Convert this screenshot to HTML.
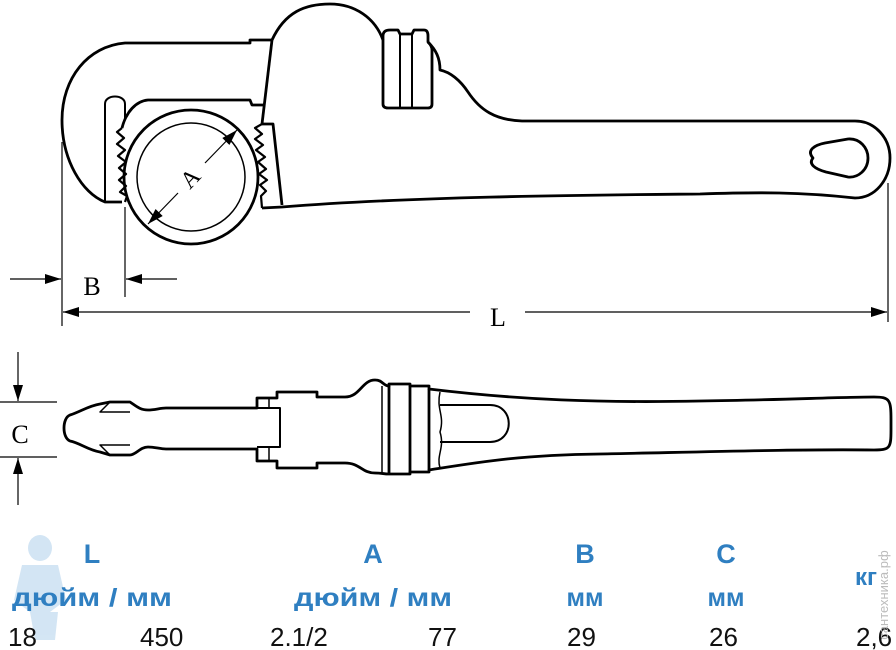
<!DOCTYPE html>
<html><head><meta charset="utf-8"><style>
html,body{margin:0;padding:0;background:#fff;width:896px;height:650px;overflow:hidden}
svg{display:block}
.t{font-family:"Liberation Sans","Noto Sans CJK SC",sans-serif}
</style></head><body>
<svg width="896" height="650" viewBox="0 0 896 650" xmlns="http://www.w3.org/2000/svg">
<defs>
<marker id="ar2" viewBox="0 0 16 10" refX="16" refY="5" markerWidth="16" markerHeight="10" markerUnits="userSpaceOnUse" orient="auto"><path d="M0,0 L16,5 L0,10 Z" fill="#000"/></marker>
</defs>
<g fill="none" stroke="#000" stroke-width="2.8" stroke-linejoin="round">
<path d="M272,40 L250,40 L250,43 L125,43 C88,46 62,78 62,120 C62,160 82,193 105,202 L122,202"/>
<path d="M105,202 L105,104 C105,94 125,94 125,104 L125,120" stroke-width="2"/>
<path d="M122,128 C126,112 136,101 148,100 L250,100 L252,105 L265,105"/>
<path d="M272,40 L262,124"/>
<path d="M272,40 C285,12 305,4 330,4 C355,4 375,18 383,40"/>
<path d="M383,36 Q383,30 390,30 L398,30 L400,34 L412,34 L414,30 L424,30 Q428,30 428,36 L428,42 Q432,46 432,50 L432,104 Q432,108 428,108 L388,108 Q383,108 383,104 Z"/>
<line x1="400" y1="33" x2="400" y2="108" stroke-width="2"/>
<line x1="412" y1="33" x2="412" y2="108" stroke-width="2"/>
<path d="M428,42 C436,50 440,58 440,70 C450,72 460,80 468,92 C480,110 495,120 522,121 L855,121 C875,121 890,138 890,158 C890,180 875,198 855,198 C800,192 760,192 700,194 C600,195 420,196 282,207 L262,208"/>
<path d="M813,158 C806,150 815,145 825,143 L848,139 C860,138 868,148 868,158 C868,170 858,178 848,177 L826,172 C815,169 808,164 813,158 Z"/>
<path d="M262,124 L273,124 L282,205"/>
<path d="M262,124 L255,128 L262,134 L255,139 L263,145 L256,150 L265,157 L258,162 L266,169 L259,174 L267,180 L260,185 L266,191 L261,196 L262,208" stroke-width="2.2"/>
<path d="M122,128 L117,132 L124,138 L117,144 L125,150 L118,156 L126,162 L119,168 L126,174 L119,180 L126,186 L120,192 L127,196 L125,202" stroke-width="2.2"/>
<circle cx="191" cy="177" r="67"/>
<circle cx="191" cy="177" r="54" stroke-width="1.5"/>
</g>
<g stroke="#000" stroke-width="1.2" fill="none">
<line x1="205" y1="163" x2="237" y2="130" marker-end="url(#ar2)"/>
<line x1="178" y1="193" x2="148" y2="224" marker-end="url(#ar2)"/>
</g>
<text x="0" y="0" transform="translate(192,180) rotate(-46)" text-anchor="middle" dominant-baseline="middle" font-family="Liberation Serif,serif" font-size="24">A</text>
<g stroke="#000" stroke-width="1.2" fill="none">
<line x1="62" y1="142" x2="62" y2="326"/>
<line x1="125" y1="207" x2="125" y2="297"/>
<line x1="888" y1="183" x2="888" y2="322"/>
<line x1="10" y1="279" x2="61" y2="279" marker-end="url(#ar2)"/>
<line x1="177" y1="279" x2="126" y2="279" marker-end="url(#ar2)"/>
<line x1="470" y1="312" x2="63" y2="312" marker-end="url(#ar2)"/>
<line x1="525" y1="312" x2="887" y2="312" marker-end="url(#ar2)"/>
<line x1="0" y1="402" x2="57" y2="402"/>
<line x1="0" y1="457" x2="57" y2="457"/>
<line x1="18" y1="352" x2="18" y2="401" marker-end="url(#ar2)"/>
<line x1="18" y1="505" x2="18" y2="458" marker-end="url(#ar2)"/>
</g>
<text x="92" y="295" text-anchor="middle" font-family="Liberation Serif,serif" font-size="26">B</text>
<text x="498" y="326" text-anchor="middle" font-family="Liberation Serif,serif" font-size="26">L</text>
<text x="20" y="443" text-anchor="middle" font-family="Liberation Serif,serif" font-size="26">C</text>
<g fill="none" stroke="#000" stroke-width="2.8" stroke-linejoin="round">
<path d="M100,404 L110,402 L130,402 C136,406 140,410 148,410 C155,410 160,408 166,408 L257,408 L257,398 L277,398 L277,392 L317,392 L317,397 L345,397 C360,397 362,380 375,380 C383,380 383,386 389,386 L389,384 L410,384 L410,386 L429,386 L429,389 C520,400 600,403 700,401 C780,400 840,397 874,397 C890,397 891,400 891,420 L891,430 C891,448 890,450 874,450 C800,449 700,452 600,454 C520,455 480,462 429,470 L429,472 L410,472 L410,474 L389,474 C383,474 383,473 375,473 C362,473 360,463 345,463 L317,463 L317,468 L277,468 L277,461 L257,461 L257,449 L166,449 C160,449 155,447 148,447 C140,447 136,455 130,455 L110,455 L100,452 C88,450 80,443 70,441 C62,438 62,418 70,415 C80,412 88,406 100,404 Z"/>
<path d="M257,408 L280,408 L280,447 L257,447" stroke-width="2"/>
<line x1="269" y1="398" x2="269" y2="408" stroke-width="1.5"/>
<line x1="269" y1="447" x2="269" y2="461" stroke-width="1.5"/>
<line x1="382" y1="386" x2="382" y2="473" stroke-width="1.5"/>
<line x1="389" y1="386" x2="389" y2="473"/>
<line x1="410" y1="386" x2="410" y2="473"/>
<line x1="429" y1="389" x2="429" y2="470"/>
<path d="M440,392 C436,410 445,415 440,432 C445,448 436,455 440,468" stroke-width="1.5"/>
<path d="M440,405 L490,405 C515,405 515,442 490,442 L440,442" stroke-width="2"/>
<path d="M110,402 L100,412 L130,412" stroke-width="1.5"/>
<path d="M110,455 L100,445 L130,445" stroke-width="1.5"/>
</g>
<g fill="#cfe3f3" opacity="0.9">
<ellipse cx="40" cy="548" rx="12" ry="13"/>
<path d="M22,565 L58,565 L66,600 L50,612 L30,612 L14,600 Z"/>
<path d="M30,612 L58,612 L55,640 L35,640 Z"/>
</g>
<g class="t" fill="#2f7fc1" font-weight="bold" font-size="27">
<text x="92" y="563" text-anchor="middle">L</text>
<text x="373" y="563" text-anchor="middle">A</text>
<text x="585" y="563" text-anchor="middle">B</text>
<text x="726" y="563" text-anchor="middle">C</text>
<text x="92" y="606" text-anchor="middle" font-size="25" textLength="160" lengthAdjust="spacingAndGlyphs">дюйм / мм</text>
<text x="373" y="606" text-anchor="middle" font-size="25" textLength="158" lengthAdjust="spacingAndGlyphs">дюйм / мм</text>
<text x="585" y="606" text-anchor="middle" font-size="25">мм</text>
<text x="726" y="606" text-anchor="middle" font-size="25">мм</text>
<text x="866" y="585" text-anchor="middle" font-size="24">кг</text>
</g>
<g class="t" fill="#111" font-size="26">
<text x="8" y="646">18</text>
<text x="140" y="646">450</text>
<text x="270" y="646">2.1/2</text>
<text x="428" y="646">77</text>
<text x="567" y="646">29</text>
<text x="709" y="646">26</text>
<text x="856" y="646">2,6</text>
</g>
<text class="t" x="0" y="0" transform="translate(888,595) rotate(-90)" text-anchor="middle" font-size="13" fill="#bbb">сантехника.рф</text>
</svg>
</body></html>
